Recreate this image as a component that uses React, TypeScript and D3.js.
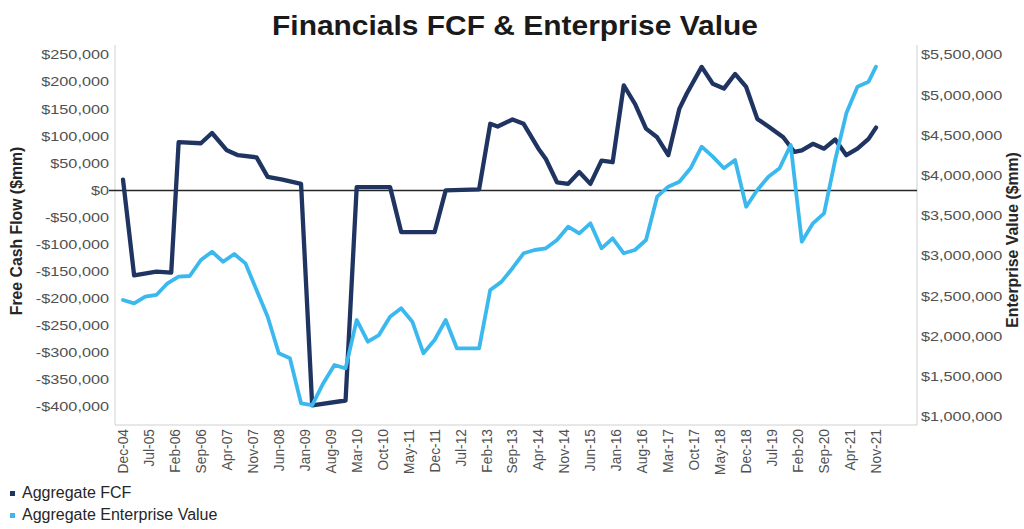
import React from "react";
import * as d3 from "d3";

const tickLabels = ["Dec-04","Jul-05","Feb-06","Sep-06","Apr-07","Nov-07","Jun-08","Jan-09","Aug-09","Mar-10","Oct-10","May-11","Dec-11","Jul-12","Feb-13","Sep-13","Apr-14","Nov-14","Jun-15","Jan-16","Aug-16","Mar-17","Oct-17","May-18","Dec-18","Jul-19","Feb-20","Sep-20","Apr-21","Nov-21"];

const leftTicks = [250000,200000,150000,100000,50000,0,-50000,-100000,-150000,-200000,-250000,-300000,-350000,-400000];
const rightTicks = [5500000,5000000,4500000,4000000,3500000,3000000,2500000,2000000,1500000,1000000];

const fcfDates = ["2004-12","2005-03","2005-09","2006-01","2006-03","2006-09","2006-12","2007-04","2007-07","2007-12","2008-03","2008-07","2008-12","2009-03","2009-12","2010-03","2010-12","2011-03","2011-12","2012-03","2012-12","2013-03","2013-05","2013-09","2013-12","2014-04","2014-06","2014-09","2014-12","2015-03","2015-06","2015-09","2015-12","2016-03","2016-06","2016-09","2016-12","2017-03","2017-06","2017-08","2017-12","2018-03","2018-06","2018-09","2018-12","2019-03","2019-06","2019-10","2020-01","2020-03","2020-06","2020-09","2020-12","2021-03","2021-06","2021-09","2021-11"];
const fcfValues = [20,-157,-150,-152,89,87,106,74,65,61,25,20,12,-397,-388,6,6,-77,-77,0,2,123,118,131,123,77,58,15,12,34,12,55,52,194,160,114,98,65,151,179,228,197,188,215,191,132,118,98,71,74,86,77,94,65,77,95,116].map(v => v * 1000);

const evDates = ["2004-12","2005-03","2005-06","2005-09","2005-12","2006-03","2006-06","2006-09","2006-12","2007-03","2007-06","2007-09","2007-12","2008-03","2008-06","2008-09","2008-12","2009-03","2009-06","2009-09","2009-12","2010-03","2010-06","2010-09","2010-12","2011-03","2011-06","2011-09","2011-12","2012-03","2012-06","2012-12","2013-03","2013-06","2013-09","2013-12","2014-03","2014-06","2014-09","2014-12","2015-03","2015-06","2015-09","2015-12","2016-03","2016-06","2016-09","2016-12","2017-03","2017-06","2017-09","2017-12","2018-03","2018-06","2018-09","2018-12","2019-03","2019-06","2019-09","2019-12","2020-03","2020-06","2020-09","2020-12","2021-03","2021-06","2021-09","2021-11"];
const evValues = [2.455,2.413,2.495,2.517,2.662,2.744,2.753,2.952,3.055,2.93,3.026,2.91,2.579,2.247,1.792,1.73,1.17,1.149,1.42,1.646,1.605,2.206,1.936,2.019,2.247,2.351,2.185,1.792,1.957,2.206,1.854,1.854,2.579,2.68,2.85,3.035,3.076,3.097,3.2,3.366,3.283,3.408,3.097,3.221,3.035,3.076,3.2,3.739,3.863,3.925,4.092,4.36,4.236,4.092,4.195,3.614,3.822,3.987,4.092,4.381,3.179,3.408,3.532,4.195,4.775,5.106,5.168,5.355].map(v => v * 1e6);

const seriesNames = ["Aggregate FCF", "Aggregate Enterprise Value"];

const monthIndex = (s: string) => {
  const [y, m] = s.split("-").map(Number);
  return (y - 2004) * 12 + (m - 12);
};

const FONT = "'Liberation Sans', Arial, sans-serif";
const DARK = "#1f3460";
const LIGHT = "#3bb9ee";

export default function App() {
  const W = 1024, H = 529;
  const x = d3.scaleLinear().domain([0, 203]).range([123, 876]);
  const yL = d3.scaleLinear().domain([-400000, 250000]).range([407, 55]);
  const yR = d3.scaleLinear().domain([1000000, 5500000]).range([417, 55]);
  const fmt = (v: number) => (v < 0 ? "-$" : "$") + d3.format(",")(Math.abs(v));

  const fcfPts = fcfDates.map((d, i) => [monthIndex(d), fcfValues[i]] as [number, number]);
  const evPts = evDates.map((d, i) => [monthIndex(d), evValues[i]] as [number, number]);
  const lineL = d3.line<[number, number]>().x(d => x(d[0])).y(d => yL(d[1]));
  const lineR = d3.line<[number, number]>().x(d => x(d[0])).y(d => yR(d[1]));

  const plotLeft = 115, plotRight = 917, plotTop = 45, plotBottom = 425;
  const sx = 1.3;

  return (
    <svg width={W} height={H} style={{ display: "block", position: "absolute", left: 0, top: 0 }} fontFamily={FONT}>
      <rect width={W} height={H} fill="#fff" />
      <text transform="translate(515,35) scale(1.07,1)" textAnchor="middle" fontSize={28} fontWeight="bold" fill="#1a1a1a">
        Financials FCF &amp; Enterprise Value
      </text>

      {/* plot frame */}
      <line x1={plotLeft} x2={plotLeft} y1={plotTop} y2={plotBottom} stroke="#d0d0d0" strokeWidth={1} />
      <line x1={plotRight} x2={plotRight} y1={plotTop} y2={plotBottom} stroke="#d0d0d0" strokeWidth={1} />
      <line x1={plotLeft} x2={plotRight} y1={plotBottom} y2={plotBottom} stroke="#d0d0d0" strokeWidth={1} />

      {/* left ticks */}
      {leftTicks.map(t => (
        <text key={t} transform={`translate(109,${yL(t)}) scale(${sx},1)`} textAnchor="end" dy="0.35em" fontSize={12.5} fill="#505050">
          {fmt(t)}
        </text>
      ))}
      {rightTicks.map(t => (
        <text key={t} transform={`translate(921,${yR(t)}) scale(${sx},1)`} textAnchor="start" dy="0.35em" fontSize={12.5} fill="#505050">
          {fmt(t)}
        </text>
      ))}

      {/* x tick labels */}
      {tickLabels.map((l, i) => (
        <text key={l} transform={`translate(${x(i * 7) + 5},429) rotate(-90)`} textAnchor="end" fontSize={13.8} fill="#505050">
          {l}
        </text>
      ))}

      {/* axis titles */}
      <text transform={`translate(22,231) rotate(-90)`} textAnchor="middle" fontSize={15.8} fontWeight="bold" fill="#262626">
        Free Cash Flow ($mm)
      </text>
      <text transform={`translate(1018,240) rotate(-90)`} textAnchor="middle" fontSize={15.8} fontWeight="bold" fill="#262626">
        Enterprise Value ($mm)
      </text>

      {/* zero line */}
      <line x1={109} x2={plotRight} y1={yL(0)} y2={yL(0)} stroke="#262626" strokeWidth={1.5} />

      {/* series */}
      <path d={lineL(fcfPts) || ""} fill="none" stroke={DARK} strokeWidth={4.3} strokeLinejoin="round" strokeLinecap="round" />
      <path d={lineR(evPts) || ""} fill="none" stroke={LIGHT} strokeWidth={3.8} strokeLinejoin="round" strokeLinecap="round" />

      {/* legend */}
      {seriesNames.map((n, i) => (
        <g key={n} transform={`translate(0,${498 + i * 22})`}>
          <rect x={10} y={-7} width={5} height={5} fill={i === 0 ? DARK : LIGHT} />
          <text x={22} y={0} fontSize={16} fill="#262626">{n}</text>
        </g>
      ))}
    </svg>
  );
}
